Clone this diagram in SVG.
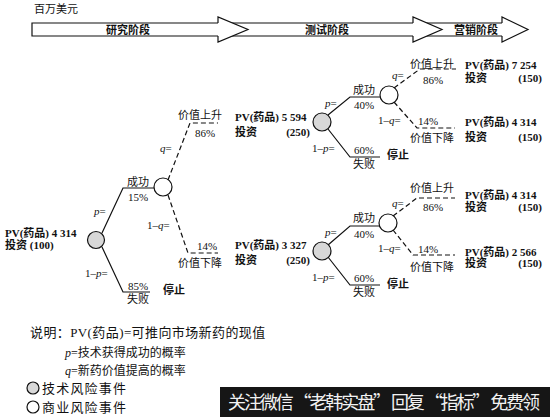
<svg xmlns="http://www.w3.org/2000/svg" width="550" height="417" viewBox="0 0 550 417">
<style>
text{font-family:"Liberation Serif","Noto Sans CJK SC",serif;font-size:11px;fill:#111}
.b{font-weight:bold}
.c{text-anchor:middle}
.e{text-anchor:end}
.i{font-style:italic}
.ln{fill:none;stroke:#111;stroke-width:1.2}
.d{fill:none;stroke:#111;stroke-width:1.2;stroke-dasharray:5,3}
.tech{fill:#d8d8d8;stroke:#111;stroke-width:1.2}
.biz{fill:#fff;stroke:#111;stroke-width:1.2}
.lg{font-size:13px}
.ph{font-family:"Noto Sans CJK SC",sans-serif;font-weight:bold;font-size:11px}
</style>
<rect width="550" height="417" fill="#fff"/>
<text x="34" y="13" style="font-size:11px">百万美元</text>
<g id="phases">
<path class="ln" d="M502,23 H32 V36 H502"/>
<g>
<polygon points="218,17 248,29.5 218,42" fill="#fff"/>
<path class="ln" d="M218,23 V17 L248,29.5 L218,42 V36"/>
<polygon points="413,17 442,29.5 413,42" fill="#fff"/>
<path class="ln" d="M413,23 V17 L442,29.5 L413,42 V36"/>
<polygon points="502,17 528,29.5 502,42" fill="#fff"/>
<path class="ln" d="M502,23 V17 L528,29.5 L502,42 V36"/>
</g>
<text class="ph c" x="128" y="34">研究阶段</text>
<text class="ph c" x="327" y="34">测试阶段</text>
<text class="ph c" x="476" y="34">营销阶段</text>
</g>
<g id="connectors">
<path class="ln" d="M102,233 L123,188 H154"/>
<path class="ln" d="M102,247 L123,292 H150"/>
<path class="d" d="M168,180 L190,123 H218"/>
<path class="d" d="M168,195 L188,253 H218"/>
<path class="ln" d="M328,115 L350,97 H380"/>
<path class="ln" d="M328,129 L350,157 H380"/>
<path class="d" d="M394,88 L420,69 H456"/>
<path class="d" d="M394,102 L417,128 H455"/>
<path class="ln" d="M328,245 L350,226 H380"/>
<path class="ln" d="M328,257 L350,285 H380"/>
<path class="d" d="M393,216 L417,198 H455"/>
<path class="d" d="M393,230 L413,255 H455"/>
</g>
<g id="root">
<circle class="tech" cx="96" cy="240" r="8.5"/>
<text class="b" x="5" y="237">PV(药品) 4 314</text>
<text class="b" x="5" y="249">投资  (100)</text>
<text x="94" y="215"><tspan class="i">p</tspan>=</text>
<text x="85" y="277">1–<tspan class="i">p</tspan>=</text>
<text class="c" x="138" y="186">成功</text>
<text class="c" x="138" y="201">15%</text>
<text class="c" x="138" y="290">85%</text>
<text class="c" x="138" y="303">失败</text>
<text class="b" x="163" y="294">停止</text>
</g>
<g id="n-success1">
<circle class="biz" cx="163" cy="187" r="9"/>
<text x="160" y="152"><tspan class="i">q</tspan>=</text>
<text x="147" y="229">1–<tspan class="i">q</tspan>=</text>
<text class="c" x="200" y="119">价值上升</text>
<text class="c" x="205" y="137">86%</text>
<text class="c" x="207" y="250">14%</text>
<text class="c" x="200" y="267">价值下降</text>
</g>
<g id="n-test-high">
<text class="b" x="235" y="121">PV(药品) 5 594</text>
<text class="b" x="235" y="136">投资</text>
<text class="b e" x="310" y="136">(250)</text>
<circle class="tech" cx="322" cy="122" r="9"/>
<text x="325" y="107"><tspan class="i">p</tspan>=</text>
<text x="312" y="152">1–<tspan class="i">p</tspan>=</text>
<text class="c" x="364" y="94">成功</text>
<text class="c" x="364" y="109">40%</text>
<text class="c" x="364" y="154">60%</text>
<text class="c" x="364" y="168">失败</text>
<text class="b" x="387" y="159">停止</text>
</g>
<g id="n-success2">
<circle class="biz" cx="389" cy="95" r="9"/>
<text x="392" y="79"><tspan class="i">q</tspan>=</text>
<text x="378" y="124">1–<tspan class="i">q</tspan>=</text>
<text class="c" x="432" y="68">价值上升</text>
<text class="c" x="433" y="84">86%</text>
<text class="c" x="428" y="125">14%</text>
<text class="c" x="432" y="142">价值下降</text>
</g>
<g id="n-mkt1">
<text class="b" x="465" y="69">PV(药品) 7 254</text>
<text class="b" x="465" y="82">投资</text>
<text class="b e" x="542" y="82">(150)</text>
</g>
<g id="n-mkt2">
<text class="b" x="465" y="126">PV(药品) 4 314</text>
<text class="b" x="465" y="141">投资</text>
<text class="b e" x="542" y="141">(150)</text>
</g>
<g id="n-test-low">
<text class="b" x="235" y="249">PV(药品) 3 327</text>
<text class="b" x="235" y="264">投资</text>
<text class="b e" x="310" y="264">(250)</text>
<circle class="tech" cx="322" cy="251" r="9"/>
<text x="325" y="236"><tspan class="i">p</tspan>=</text>
<text x="312" y="281">1–<tspan class="i">p</tspan>=</text>
<text class="c" x="364" y="222">成功</text>
<text class="c" x="364" y="238">40%</text>
<text class="c" x="364" y="282">60%</text>
<text class="c" x="364" y="296">失败</text>
<text class="b" x="387" y="288">停止</text>
</g>
<g id="n-success3">
<circle class="biz" cx="388" cy="223" r="9"/>
<text x="392" y="207"><tspan class="i">q</tspan>=</text>
<text x="378" y="252">1–<tspan class="i">q</tspan>=</text>
<text class="c" x="432" y="192">价值上升</text>
<text class="c" x="433" y="211">86%</text>
<text class="c" x="428" y="253">14%</text>
<text class="c" x="432" y="271">价值下降</text>
</g>
<g id="n-mkt3">
<text class="b" x="465" y="199">PV(药品) 4 314</text>
<text class="b" x="465" y="211">投资</text>
<text class="b e" x="542" y="211">(150)</text>
</g>
<g id="n-mkt4">
<text class="b" x="465" y="256">PV(药品) 2 566</text>
<text class="b" x="465" y="267">投资</text>
<text class="b e" x="542" y="267">(150)</text>
</g>
<g id="legend">
<text class="lg" x="30" y="337" style="letter-spacing:0.4px">说明：PV(药品)=可推向市场新药的现值</text>
<text x="65" y="357" style="font-size:12px"><tspan class="i">p</tspan>=技术获得成功的概率</text>
<text x="65" y="375" style="font-size:12px"><tspan class="i">q</tspan>=新药价值提高的概率</text>
<circle class="tech" cx="33" cy="388" r="6"/>
<text class="lg" x="42" y="393" style="letter-spacing:1.2px">技术风险事件</text>
<circle class="biz" cx="33" cy="407" r="6"/>
<text class="lg" x="42" y="412" style="letter-spacing:1.2px">商业风险事件</text>
</g>
<g id="watermark">
<rect x="220" y="387" width="330" height="30" fill="#161616"/>
<text x="228" y="409" textLength="312" lengthAdjust="spacing" style="font-family:'Noto Sans CJK SC',sans-serif;font-size:18px;fill:#f2f2f2">关注微信 “老韩实盘” 回复 “指标” 免费领</text>
</g>
</svg>
